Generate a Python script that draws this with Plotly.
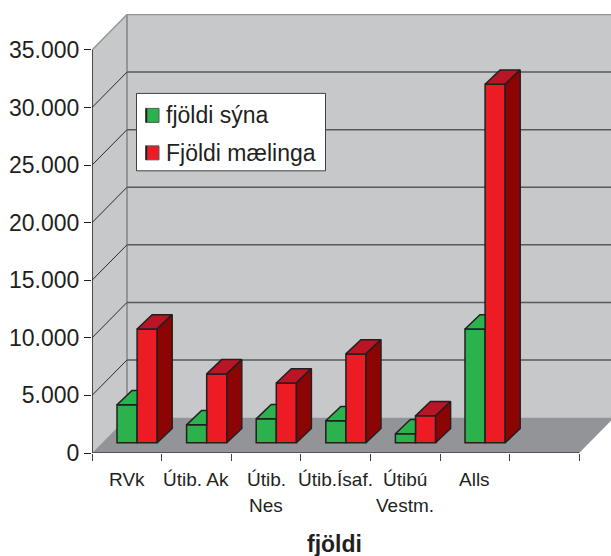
import plotly.graph_objects as go

# ---- data ----
categories = ["RVk", "Útib. Ak", "Útib.|Nes", "Útib.Ísaf.", "Útibú|Vestm.", "Alls", ""]
fjoldi_syna = [3300, 1560, 2080, 1910, 780, 9890]
fjoldi_maelinga = [9890, 5985, 5200, 7720, 2340, 31140]
y_ticks = [0, 5000, 10000, 15000, 20000, 25000, 30000, 35000]
y_labels = ["0", "5.000", "10.000", "15.000", "20.000", "25.000", "30.000", "35.000"]
name_green = "fjöldi sýna"
name_red = "Fjöldi mælinga"
x_title = "fjöldi"

# ---- styling / layout constants ----
W, H = 611, 556
L, T, R_PX, B_PX = 92, 14, 611, 453.5
PX_CAT = 69.6
PX_VAL = 403.5 / 35000
DARK = "#231f20"
def dx(px): return px / PX_CAT
def dy(px): return px / PX_VAL
xmax = (R_PX - L) / PX_CAT
ymax = (B_PX - T) / PX_VAL
n_cat = len(categories)
WX, WY = dx(35), dy(35.5)
BX, BY = dx(15), dy(14.3)
BASE = dy(10.2)
BAR_W = dx(20.1)
OFF_G, OFF_R = dx(25), dx(45.1)
def px_x(p): return (p - L) / (R_PX - L)
def px_y(p): return (B_PX - p) / (B_PX - T)

WALL, FLOOR = "#c7c8ca", "#929497"
shapes = [
    dict(type="rect", layer="below", x0=WX, x1=xmax + 1, y0=WY, y1=ymax + 9000, fillcolor=WALL, line_width=0),
    dict(type="path", layer="below", fillcolor=WALL, line_width=0,
         path=f"M0,0 L{WX},{WY} L{WX},{35000 + WY} L0,35000 Z"),
    dict(type="path", layer="below", fillcolor=FLOOR, line_width=0,
         path=f"M0,0 L{n_cat},0 L{n_cat + WX},{WY} L{WX},{WY} Z"),
    dict(type="line", layer="below", x0=WX, x1=WX, y0=WY, y1=35000 + WY, line=dict(color="#939598", width=2)),
    dict(type="line", layer="below", x0=0, x1=WX, y0=35000, y1=35000 + WY, line=dict(color="#939598", width=1.5)),
    dict(type="line", layer="below", x0=WX, x1=xmax + 1, y0=35000 + WY, y1=35000 + WY, line=dict(color="#939598", width=1.5)),
]
for t in y_ticks[1:-1]:
    shapes.append(dict(type="line", layer="below", x0=0, x1=WX, y0=t, y1=t + WY, line=dict(color="#2b2b2b", width=1)))
    shapes.append(dict(type="line", layer="below", x0=WX, x1=xmax + 1, y0=t + WY, y1=t + WY, line=dict(color="#58595b", width=1.5)))

def poly_trace(polys, color):
    xs, ys = [], []
    for poly in polys:
        xs += [p[0] for p in poly] + [poly[0][0], None]
        ys += [p[1] for p in poly] + [poly[0][1], None]
    return go.Scatter(x=xs, y=ys, mode="lines", fill="toself", fillcolor=color,
                      line=dict(color=DARK, width=1.5), hoverinfo="skip", showlegend=False)

green_tops, red_tops, red_sides = [], [], []
for i, (g, r) in enumerate(zip(fjoldi_syna, fjoldi_maelinga)):
    xg, xr = i + OFF_G, i + OFF_R
    tg, tr = BASE + g, BASE + r
    green_tops.append([(xg, tg), (xr, tg), (xr, tg + BY), (xg + BX, tg + BY)])
    red_tops.append([(xr, tr), (xr + BAR_W, tr), (xr + BAR_W + BX, tr + BY), (xr + BX, tr + BY)])
    red_sides.append([(xr + BAR_W, BASE), (xr + BAR_W + BX, BASE + BY), (xr + BAR_W + BX, tr + BY), (xr + BAR_W, tr)])

fig = go.Figure()
idx = list(range(len(fjoldi_syna)))
fig.add_trace(go.Bar(x=[i + OFF_G for i in idx], y=fjoldi_syna, base=BASE, width=BAR_W, offset=0,
                     marker=dict(color="#2bb24c", line=dict(color=DARK, width=1.5)), name=name_green, showlegend=False))
fig.add_trace(go.Bar(x=[i + OFF_R for i in idx], y=fjoldi_maelinga, base=BASE, width=BAR_W, offset=0,
                     marker=dict(color="#ed1c24", line=dict(color=DARK, width=1.5)), name=name_red, showlegend=False))
fig.add_trace(poly_trace(green_tops, "#2bb24c"))
fig.add_trace(poly_trace(red_tops, "#b91524"))
fig.add_trace(poly_trace(red_sides, "#8c0404"))
# axis lines
fig.add_trace(go.Scatter(x=[0, 0], y=[y_ticks[0], y_ticks[-1]], mode="lines", cliponaxis=False,
                         line=dict(color=DARK, width=1.5), hoverinfo="skip", showlegend=False))
fig.add_trace(go.Scatter(x=[0, n_cat], y=[0, 0], mode="lines", cliponaxis=False,
                         line=dict(color="#414042", width=1.5), hoverinfo="skip", showlegend=False))

ann = []
for i, c in enumerate(categories):
    for k, line in enumerate(c.split("|")):
        if line:
            ann.append(dict(x=i + 0.5, xref="x", y=px_y(480 + 26 * k), yref="paper", text=line, showarrow=False,
                            xanchor="center", yanchor="middle", font=dict(size=19, color=DARK)))
ann.append(dict(x=px_x(334), xref="paper", y=px_y(545), yref="paper", text=f"<b>{x_title}</b>", showarrow=False,
                xanchor="center", yanchor="middle", font=dict(size=23, color=DARK)))

# legend box
shapes.append(dict(type="rect", xref="paper", yref="paper", x0=px_x(136.5), x1=px_x(325.5), y0=px_y(171), y1=px_y(93.5),
                   fillcolor="white", line=dict(color="#414042", width=1)))
for yc, col, txt in [(115.5, "#2bb24c", name_green), (153, "#ed1c24", name_red)]:
    shapes.append(dict(type="rect", xref="paper", yref="paper", x0=px_x(145.5), x1=px_x(159), y0=px_y(yc + 7), y1=px_y(yc - 7),
                       fillcolor=col, line=dict(color="#58595b", width=1)))
    shapes.append(dict(type="line", xref="paper", yref="paper", x0=px_x(146.5), x1=px_x(146.5), y0=px_y(yc + 7), y1=px_y(yc - 7),
                       line=dict(color=DARK, width=1.5)))
    ann.append(dict(x=px_x(164), xref="paper", y=px_y(yc), yref="paper", text=txt, showarrow=False,
                    xanchor="left", yanchor="middle", font=dict(size=23, color=DARK)))

fig.update_layout(
    width=W, height=H, autosize=False, margin=dict(l=L, r=W - R_PX, t=T, b=H - B_PX, pad=0),
    paper_bgcolor="white", plot_bgcolor="white", barmode="overlay", showlegend=False,
    font=dict(family="Liberation Sans, Arial, sans-serif", color=DARK),
    shapes=shapes, annotations=ann,
    xaxis=dict(range=[0, xmax], tickmode="array", tickvals=list(range(n_cat + 1)), ticktext=[""] * (n_cat + 1),
               ticks="outside", ticklen=7, tickcolor="#414042", tickwidth=1, showgrid=False, zeroline=False, showline=False),
    yaxis=dict(range=[0, ymax], tickmode="array", tickvals=y_ticks, ticktext=y_labels, ticks="outside", ticklen=7,
               tickcolor=DARK, tickwidth=1, tickfont=dict(size=23, color=DARK), showgrid=False, zeroline=False, showline=False),
)
fig.write_html("out.html", config={"displayModeBar": False},
               post_script="document.body.style.margin='0';")
